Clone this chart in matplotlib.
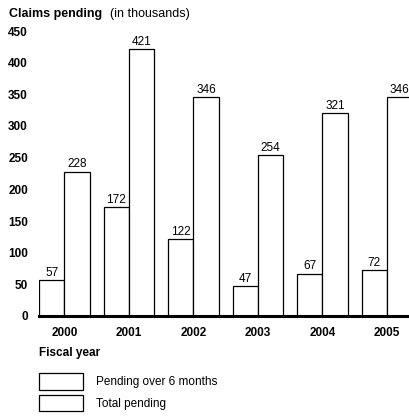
# Claims pending chart: paired outline bars per fiscal year.
import numpy as np
import matplotlib
matplotlib.use("Agg")
import matplotlib.pyplot as plt

# --- Data (thousands of claims) ---
years = ["2000", "2001", "2002", "2003", "2004", "2005"]
over_6_months = [57, 172, 122, 47, 67, 72]
total_pending = [228, 421, 346, 254, 321, 346]
y_ticks = [0, 50, 100, 150, 200, 250, 300, 350, 400, 450]

plt.rcParams["font.family"] = ["Liberation Sans", "DejaVu Sans"]

W, H = 409, 416
fig = plt.figure(figsize=(W / 100, H / 100), dpi=100)

# axes placed in pixel terms; right edge runs to figure edge (last bar is cut off)
left_px, right_px, top_px, bottom_px = 39, 409, 31, 316
ax = fig.add_axes([left_px / W, 1 - bottom_px / H,
                   (right_px - left_px) / W, (bottom_px - top_px) / H])

x = np.arange(len(years))
w = 0.395
b1 = ax.bar(x - w / 2, over_6_months, width=w, facecolor="white",
            edgecolor="black", linewidth=0.9, label="Pending over 6 months")
b2 = ax.bar(x + w / 2, total_pending, width=w, facecolor="white",
            edgecolor="black", linewidth=0.9, label="Total pending")

for bars, vals in ((b1, over_6_months), (b2, total_pending)):
    for rect, v in zip(bars, vals):
        ax.annotate(str(v), (rect.get_x() + rect.get_width() / 2, v),
                    xytext=(0, 3), textcoords="offset points",
                    ha="center", va="baseline", fontsize=8.5,
                    annotation_clip=False)

ax.set_xlim(-w, -w + (right_px - left_px) / 64.5)
ax.set_ylim(0, 450)
ax.set_xticks(x)
ax.set_xticklabels(years, fontsize=8.5, fontweight="bold")
ax.set_yticks(y_ticks)
ax.set_yticklabels([str(t) for t in y_ticks], fontsize=8.5, fontweight="bold")
ax.tick_params(axis="both", length=0)
ax.tick_params(axis="x", pad=8)
ax.tick_params(axis="y", pad=8)

for side in ("left", "right", "top"):
    ax.spines[side].set_visible(False)
ax.spines["bottom"].set_linewidth(2.2)

# title pieces and x caption
fig.text(9 / W, 1 - 17 / H, "Claims pending", fontsize=9, fontweight="bold",
         ha="left", va="baseline")
fig.text(110 / W, 1 - 17 / H, "(in thousands)", fontsize=9,
         ha="left", va="baseline")
fig.text(39 / W, 1 - 356 / H, "Fiscal year", fontsize=8.5, fontweight="bold",
         ha="left", va="baseline")

fig.legend(handles=[b1, b2], loc="upper left",
           bbox_to_anchor=(39 / W, 1 - 373 / H), frameon=False,
           fontsize=8.5, borderpad=0, borderaxespad=0,
           handlelength=3.7, handleheight=1.8, handletextpad=1.1,
           labelspacing=0.42)

fig.savefig("out.png", dpi=100)
